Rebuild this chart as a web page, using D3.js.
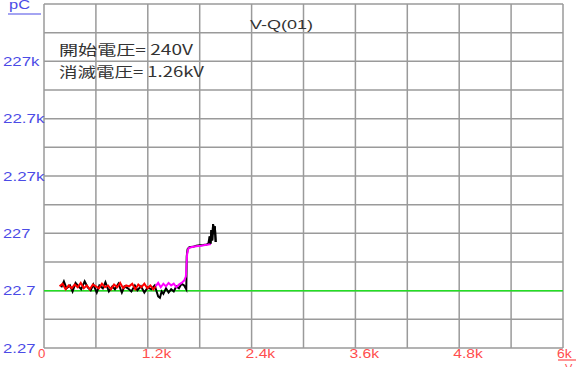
<!DOCTYPE html>
<html>
<head>
<meta charset="utf-8">
<script src="https://cdn.jsdelivr.net/npm/d3@7"></script>
<style>
  body { margin: 0; background: #fff; }
  svg { display: block; }
</style>
</head>
<body>
<div id="chart"></div>
<script>
// axis ticks
const xTicks = [0, 1200, 2400, 3600, 4800, 6000];
const xTickLabels = ["0", "1.2k", "2.4k", "3.6k", "4.8k", "6k"];
const yTicks = [2.27, 22.7, 227, 2270, 22700, 227000, 2270000];
const yTickLabels = ["2.27", "22.7", "227", "2.27k", "22.7k", "227k", "pC"];

// threshold line (pC)
const thresholdLevel = 22.7;

// series: [voltage, charge pC]
const redSeries = [[180,27],[215,30],[250,24],[285,28],[320,25],[355,29],[390,26],[425,31],[460,25],[495,28],
  [530,24],[565,29],[600,27],[635,25],[670,30],[705,26],[740,28],[775,24],[810,29],[845,26],[880,31],[915,25],
  [950,28],[985,27],[1020,30],[1055,24],[1090,29],[1125,26],[1160,30],[1195,25],[1230,28],[1265,24],[1290,27]];

const blackSeries = [[200,26],[230,33],[260,25],[300,28],[330,22],[365,31],[400,27],[430,24],[470,33],[505,26],
  [540,23],[570,29],[610,21],[640,28],[680,25],[710,32],[750,22],[790,27],[820,24],[860,30],[900,21],[930,27],
  [970,25],[1010,22],[1050,28],[1080,23],[1120,27],[1160,21],[1200,26],[1240,24],[1280,28],[1320,18],[1340,17],
  [1360,22],[1380,20],[1410,25],[1440,21],[1470,24],[1500,22],[1530,27],[1560,25],[1590,30],[1620,28],[1645,24],
  [1650,90],[1660,120],[1680,130],[1720,132],[1760,138],[1800,140],[1840,142],[1880,145],[1900,150],[1915,200],
  [1925,150],[1935,260],[1945,170],[1955,330],[1965,220],[1975,300],[1985,160]];

const magentaSeries = [[1290,27],[1320,31],[1350,26],[1380,30],[1410,27],[1440,31],[1470,28],[1500,30],[1530,26],
  [1560,29],[1590,31],[1620,34],[1640,40],[1655,100],[1670,125],[1700,130],[1740,134],[1780,137],[1820,138],
  [1860,142],[1900,145],[1930,148]];

const title = "V-Q(01)";
const notes = ["開始電圧= 240V", "消滅電圧= 1.26kV"];

const width = 581, height = 367;
const margin = {left: 44, right: 18, top: 4, bottom: 19};

const svg = d3.select("#chart").append("svg")
  .attr("width", width).attr("height", height);

const x = d3.scaleLinear().domain([0, 6000]).range([margin.left, width - margin.right]);
const y = d3.scaleLog().domain([2.27, 2270000]).range([height - margin.bottom, margin.top]);

// grid: 10 columns, 12 rows (2 per decade)
const xGrid = d3.range(0, 6001, 600);
const yGrid = [];
yTicks.forEach((t, i) => { yGrid.push(t); if (i < yTicks.length - 1) yGrid.push(t * Math.sqrt(10)); });

const grid = svg.append("g").attr("stroke", "#9a9a9a").attr("stroke-width", 1.5);
grid.selectAll("line.v").data(xGrid).join("line")
  .attr("x1", d => x(d)).attr("x2", d => x(d))
  .attr("y1", y(2270000)).attr("y2", y(2.27));
grid.selectAll("line.h").data(yGrid).join("line")
  .attr("x1", x(0)).attr("x2", x(6000))
  .attr("y1", d => y(d)).attr("y2", d => y(d));

// tick labels (old-style wide glyphs -> stretch with textLength)
const font = "'Liberation Sans', Arial, sans-serif";
const wide = (s, per) => s.length * per;
svg.append("g").selectAll("text").data(xTicks).join("text")
  .attr("x", d => x(d) - 6).attr("y", height - 9)
  .attr("font-family", font).attr("font-size", 12).attr("fill", "#ff4d4d")
  .attr("textLength", (d, i) => wide(xTickLabels[i], 7.4))
  .attr("lengthAdjust", "spacingAndGlyphs")
  .text((d, i) => xTickLabels[i]);

svg.append("g").selectAll("text").data(yTicks).join("text")
  .attr("x", (d, i) => i === yTicks.length - 1 ? 9 : 3)
  .attr("y", (d, i) => i === yTicks.length - 1 ? 9 : y(d) + 4.5)
  .attr("font-family", font).attr("font-size", 12).attr("fill", "#4b4be6")
  .attr("textLength", (d, i) => i === yTicks.length - 1 ? 21 : wide(yTickLabels[i], 9.1) - (yTickLabels[i].includes(".") ? 4 : 0))
  .attr("lengthAdjust", "spacingAndGlyphs")
  .text((d, i) => yTickLabels[i]);

// unit underlines
svg.append("line").attr("x1", 8).attr("x2", 41).attr("y1", 14).attr("y2", 14)
  .attr("stroke", "#4b4be6").attr("stroke-width", 1.2);
svg.append("line").attr("x1", 558).attr("x2", 576).attr("y1", 360).attr("y2", 360)
  .attr("stroke", "#ff4d4d").attr("stroke-width", 1.2);
svg.append("text").attr("x", 565).attr("y", 372)
  .attr("font-family", font).attr("font-size", 11).attr("fill", "#ff4d4d").text("V");

// threshold
svg.append("line")
  .attr("x1", x(0)).attr("x2", x(6000))
  .attr("y1", y(thresholdLevel)).attr("y2", y(thresholdLevel))
  .attr("stroke", "#22e022").attr("stroke-width", 1.5);

const line = d3.line().x(d => x(d[0])).y(d => y(d[1]));
[[blackSeries, "#000"], [redSeries, "#ff0000"], [magentaSeries, "#ff00ff"]].forEach(([s, c]) => {
  svg.append("path").datum(s).attr("d", line)
    .attr("fill", "none").attr("stroke", c).attr("stroke-width", 2);
});
// black spikes over the magenta tail
svg.append("path").datum(blackSeries.slice(-8)).attr("d", line)
  .attr("fill", "none").attr("stroke", "#000").attr("stroke-width", 2);

// title and notes
svg.append("text").attr("x", 250).attr("y", 29)
  .attr("font-family", font).attr("font-size", 12).attr("fill", "#333")
  .attr("textLength", 63).attr("lengthAdjust", "spacingAndGlyphs").text(title);
svg.append("g").selectAll("text").data(notes).join("text")
  .attr("x", 59).attr("y", (d, i) => 55 + i * 22)
  .attr("font-family", "'Noto Sans CJK JP', sans-serif").attr("font-size", 14).attr("fill", "#333")
  .attr("textLength", (d, i) => i === 0 ? 134 : 145).attr("lengthAdjust", "spacingAndGlyphs")
  .text(d => d);
</script>
</body>
</html>
